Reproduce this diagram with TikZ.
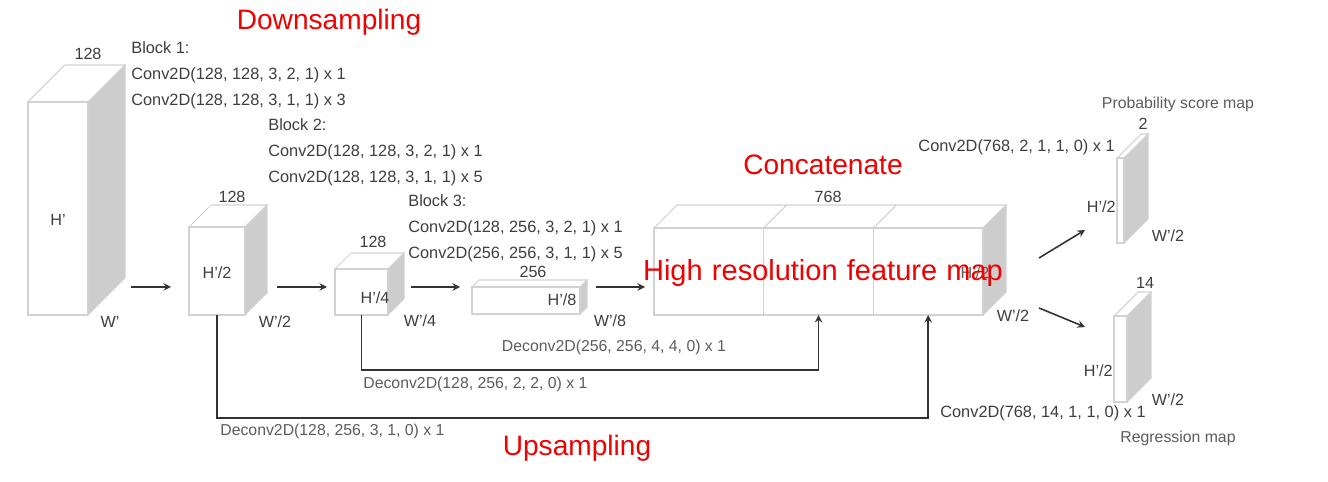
\documentclass[tikz,border=0pt]{standalone}
\usepackage{fontspec}
\setmainfont{Liberation Sans}
\usetikzlibrary{calc}

\definecolor{edgegray}{HTML}{D2D2D2}
\definecolor{sidegray}{HTML}{CDCDCD}
\definecolor{txtgray}{HTML}{3E3E3E}
\definecolor{mapgray}{HTML}{5C5C5C}
\definecolor{arrowgray}{HTML}{333333}
\definecolor{titlered}{HTML}{F00000}

% #1 name, #2 x, #3 y (front top left), #4 width, #5 height, #6 depth
\newcommand\featbox[6]{%
  \node[face, minimum width=#4*0.02cm, minimum height=#5*0.02cm] (#1) at (#2,#3) {};
  \filldraw[edge, fill=sidegray] (#1.north east) -- ++(#6,-#6) -- ++(0,#5) -- (#1.south east) -- cycle;
  \draw[edge] (#1.north west) -- ++(#6,-#6) -- ++(#4,0) -- (#1.north east);
}

\begin{document}
\begin{tikzpicture}[x=0.02cm, y=-0.02cm, >=stealth,
  edge/.style={draw=edgegray, line width=0.6pt},
  face/.style={edge, fill=white, inner sep=0pt, outer sep=0pt, anchor=north west},
  lbl/.style={text=txtgray, inner sep=0pt, font=\fontsize{9.2}{11}\selectfont},
  blocktxt/.style={lbl, anchor=north west, align=left, font=\fontsize{9.3}{15}\selectfont},
  deconvtxt/.style={lbl, text=mapgray, font=\fontsize{9}{11}\selectfont},
  maptxt/.style={lbl, text=mapgray, font=\fontsize{9}{11}\selectfont},
  redtitle/.style={text=titlered, inner sep=0pt, font=\fontsize{16}{19}\selectfont},
  flow/.style={->, draw=arrowgray, line width=0.9pt}]
  \useasboundingbox (0,0) rectangle (1328,482);

  \featbox{b1}{28}{102}{60}{213}{37}
  \featbox{b2}{189}{227}{56}{88}{22}
  \featbox{b3}{335}{269}{53}{46}{16}
  \featbox{b4}{472}{287}{108}{27}{7}
  \featbox{cat}{654}{228}{329}{87}{23}
  \foreach \f in {1,2} {
    \draw[edge] ($(cat.north west)!\f/3!(cat.north east)$) -- ++(23,-23);
    \draw[edge] ($(cat.north west)!\f/3!(cat.north east)$) -- ($(cat.south west)!\f/3!(cat.south east)$);
  }
  \featbox{prob}{1117}{158}{7}{85}{24}
  \featbox{regr}{1114}{316}{13}{86}{24}

  \node[lbl] (c1) at (88,54) {128};
  \node[lbl] (c2) at (232,197) {128};
  \node[lbl] (c3) at (373,242) {128};
  \node[lbl] (c4) at (533,272) {256};
  \node[lbl] (c5) at (828,197) {768};
  \node[lbl] (c6) at (1143,124) {2};
  \node[lbl] (c7) at (1145,283) {14};

  \node[lbl] (h1) at (58,220) {H'};
  \node[lbl] (h2) at (217,273) {H'/2};
  \node[lbl] (h3) at (375,298) {H'/4};
  \node[lbl] (h4) at (562,300) {H'/8};
  \node[lbl, text=mapgray] (h5) at (975,273) {H'/2};
  \node[lbl, anchor=east] (h6) at (1116,207) {H'/2};
  \node[lbl, anchor=east] (h7) at (1113,371) {H'/2};

  \node[lbl] (w1) at (110,322) {W'};
  \node[lbl] (w2) at (275,322) {W'/2};
  \node[lbl] (w3) at (420,321) {W'/4};
  \node[lbl] (w4) at (610,321) {W'/8};
  \node[lbl] (w5) at (1013,316) {W'/2};
  \node[lbl] (w6) at (1168,236) {W'/2};
  \node[lbl] (w7) at (1168,400) {W'/2};

  \node[blocktxt] (blk1) at (131,41) {Block 1:\\Conv2D(128, 128, 3, 2, 1) x 1\\Conv2D(128, 128, 3, 1, 1) x 3};
  \node[blocktxt] (blk2) at (268,118) {Block 2:\\Conv2D(128, 128, 3, 2, 1) x 1\\Conv2D(128, 128, 3, 1, 1) x 5};
  \node[blocktxt] (blk3) at (408,194) {Block 3:\\Conv2D(128, 256, 3, 2, 1) x 1\\Conv2D(256, 256, 3, 1, 1) x 5};

  \draw[flow] ([shift={(43,-28)}]b1.south east) -- ([shift={(-18,-28)}]b2.south west);
  \draw[flow] ([shift={(32,-28)}]b2.south east) -- ([shift={(-8,-28)}]b3.south west);
  \draw[flow] ([shift={(23,-28)}]b3.south east) -- ([shift={(-12,-27)}]b4.south west);
  \draw[flow] ([shift={(16,-27)}]b4.south east) -- ([shift={(-9,-28)}]cat.south west);

  \draw[flow] (b3.south) -- ++(0,55) -| (cat.south);
  \draw[flow] (b2.south) -- ++(0,103) -| ([shift={(109.7,0)}]cat.south);
  \node[deconvtxt] (dc1) at (614,347) {Deconv2D(256, 256, 4, 4, 0) x 1};
  \node[deconvtxt, anchor=west] (dc2) at (363,384) {Deconv2D(128, 256, 2, 2, 0) x 1};
  \node[deconvtxt, anchor=west] (dc3) at (220,431) {Deconv2D(128, 256, 3, 1, 0) x 1};

  \draw[flow] ([shift={(56,-57)}]cat.south east) -- ([shift={(-32,-13)}]prob.south west);
  \draw[flow] ([shift={(56,-7)}]cat.south east) -- ([shift={(-29,-32)}]regr.west);
  \node[lbl, anchor=east, font=\fontsize{9.3}{11}\selectfont] (cv1) at (1115,147) {Conv2D(768, 2, 1, 1, 0) x 1};
  \node[lbl, anchor=west, font=\fontsize{9.3}{11}\selectfont] (cv2) at (940,413) {Conv2D(768, 14, 1, 1, 0) x 1};
  \node[maptxt] (m1) at (1178,104) {Probability score map};
  \node[maptxt] (m2) at (1178,438) {Regression map};

  \node[redtitle] (t1) at (329,22) {Downsampling};
  \node[redtitle] (t2) at (823,165) {Concatenate};
  \node[redtitle, font=\fontsize{16.5}{19}\selectfont] (t3) at (823,273) {High\hspace{0.32em}resolution\hspace{0.32em}feature\hspace{0.32em}map};
  \node[redtitle] (t4) at (577,448) {Upsampling};
\end{tikzpicture}
\end{document}
